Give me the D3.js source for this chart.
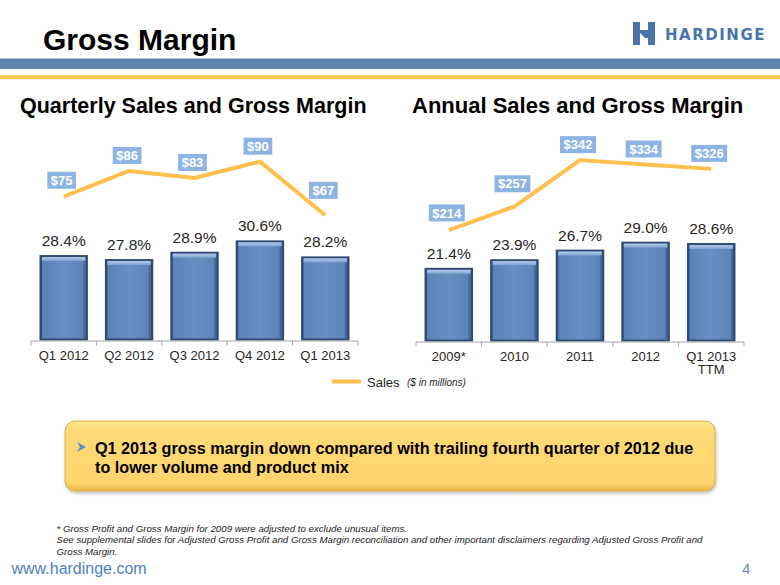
<!DOCTYPE html>
<html>
<head>
<meta charset="utf-8">
<script src="https://cdn.jsdelivr.net/npm/d3@7"></script>
<style>
  html, body { margin: 0; padding: 0; background: #fff; }
  svg { display: block; font-family: Arial, "Liberation Sans", sans-serif; }
</style>
</head>
<body>
<svg id="chart" width="780" height="585"></svg>
<script>
// ---------- data ----------
const quarters = ["Q1 2012", "Q2 2012", "Q3 2012", "Q4 2012", "Q1 2013"];
const quarterlyMargin = [28.4, 27.8, 28.9, 30.6, 28.2];
const quarterlySales = [75, 86, 83, 90, 67];

const years = ["2009*", "2010", "2011", "2012", "Q1 2013\nTTM"];
const annualMargin = [21.4, 23.9, 26.7, 29.0, 28.6];
const annualSales = [214, 257, 342, 334, 326];

const titleText = "Gross Margin";
const leftTitle = "Quarterly Sales and Gross Margin";
const rightTitle = "Annual Sales and Gross Margin";
const legendLabel = "Sales";
const legendNote = "($ in millions)";
const calloutLines = [
  "Q1 2013 gross margin down compared with trailing fourth quarter of 2012 due",
  "to lower volume and product mix"
];
const footnotes = [
  "* Gross Profit and Gross Margin for 2009 were adjusted to exclude unusual items.",
  "See supplemental slides for Adjusted Gross Profit and Gross Margin reconciliation and other important disclaimers regarding Adjusted Gross Profit and",
  "Gross Margin."
];

// ---------- setup ----------
const svg = d3.select("#chart");
const defs = svg.append("defs");

const barGrad = defs.append("linearGradient").attr("id", "barFace").attr("x1", 0).attr("x2", 1).attr("y1", 0).attr("y2", 0);
barGrad.append("stop").attr("offset", "0%").attr("stop-color", "#5b82b6");
barGrad.append("stop").attr("offset", "50%").attr("stop-color", "#6a90c2");
barGrad.append("stop").attr("offset", "100%").attr("stop-color", "#5b82b6");

const topGrad = defs.append("linearGradient").attr("id", "barTop").attr("x1", 0).attr("x2", 0).attr("y1", 0).attr("y2", 1);
topGrad.append("stop").attr("offset", "0%").attr("stop-color", "#b3cbea");
topGrad.append("stop").attr("offset", "100%").attr("stop-color", "#7fa2d0");

const callGrad = defs.append("linearGradient").attr("id", "callFill").attr("x1", 0).attr("x2", 0).attr("y1", 0).attr("y2", 1);
callGrad.append("stop").attr("offset", "0%").attr("stop-color", "#ffe58f");
callGrad.append("stop").attr("offset", "12%").attr("stop-color", "#ffda77");
callGrad.append("stop").attr("offset", "88%").attr("stop-color", "#ffd56c");
callGrad.append("stop").attr("offset", "100%").attr("stop-color", "#e9b64e");

const shadow = defs.append("filter").attr("id", "shadow").attr("x", "-5%").attr("y", "-10%").attr("width", "110%").attr("height", "130%");
shadow.append("feDropShadow").attr("dx", 1).attr("dy", 2).attr("stdDeviation", 1.5).attr("flood-color", "#000").attr("flood-opacity", 0.25);

// ---------- header ----------
svg.append("text").attr("x", 43).attr("y", 49.5)
  .attr("font-size", 30).attr("font-weight", "bold").attr("fill", "#000")
  .text(titleText);

svg.append("rect").attr("x", 0).attr("y", 58.5).attr("width", 780).attr("height", 10.5).attr("fill", "#6084b0");
svg.append("rect").attr("x", 0).attr("y", 75).attr("width", 780).attr("height", 4.3).attr("fill", "#ffc95c");

// logo
const logo = svg.append("g").attr("fill", "#4a74ac");
logo.append("rect").attr("x", 633).attr("y", 22).attr("width", 7).attr("height", 23);
logo.append("rect").attr("x", 648).attr("y", 22).attr("width", 7).attr("height", 23);
logo.append("path").attr("d", "M640,30 L648,30 L648,38 L645,38 L640,33 Z");
svg.append("text").attr("x", 665).attr("y", 39.5)
  .attr("font-size", 15.5).attr("font-weight", "bold").attr("letter-spacing", 1.6)
  .attr("fill", "#4a74ac").attr("font-family", "'DejaVu Sans', Verdana, sans-serif")
  .attr("textLength", 101).attr("lengthAdjust", "spacingAndGlyphs")
  .text("HARDINGE");

// section titles
svg.append("text").attr("x", 20).attr("y", 113).attr("font-size", 21.5).attr("font-weight", "bold").attr("fill", "#000").text(leftTitle);
svg.append("text").attr("x", 412).attr("y", 113).attr("font-size", 22).attr("font-weight", "bold").attr("fill", "#000").text(rightTitle);

// ---------- chart builder ----------
function drawPanel(cfg) {
  const g = svg.append("g");
  const x = d3.scaleBand().domain(cfg.cats).range([cfg.x0, cfg.x1]).paddingInner(0.26).paddingOuter(0.13);
  const y = d3.scaleLinear().domain(cfg.marginDomain).range([cfg.base, cfg.marginTop]);
  const ys = d3.scaleLinear().domain(cfg.salesDomain).range(cfg.salesRange);
  const rows = cfg.cats.map((c, i) => ({ c, m: cfg.margin[i], s: cfg.sales[i] }));
  const cx = d => x(d.c) + x.bandwidth() / 2;

  // bars
  const bars = g.selectAll(".bar").data(rows).enter().append("g");
  bars.append("rect")
    .attr("x", d => x(d.c)).attr("y", d => y(d.m))
    .attr("width", x.bandwidth()).attr("height", d => cfg.base - y(d.m))
    .attr("fill", "#2f4b74");
  bars.append("rect")
    .attr("x", d => x(d.c) + 2.5).attr("y", d => y(d.m) + 2)
    .attr("width", x.bandwidth() - 5).attr("height", d => cfg.base - y(d.m) - 4)
    .attr("fill", "url(#barFace)");
  bars.append("rect")
    .attr("x", d => x(d.c) + 2.5).attr("y", d => y(d.m) + 2)
    .attr("width", x.bandwidth() - 5).attr("height", 4)
    .attr("fill", "url(#barTop)");
  bars.append("rect")
    .attr("x", d => x(d.c) + x.bandwidth() - 4.5).attr("y", d => y(d.m) + 6)
    .attr("width", 2).attr("height", d => cfg.base - y(d.m) - 8)
    .attr("fill", "#46679a");

  // percent labels
  g.selectAll(".pct").data(rows).enter().append("text")
    .attr("x", cx).attr("y", d => y(d.m) - 9)
    .attr("text-anchor", "middle").attr("font-size", 15.5).attr("fill", "#262626")
    .text(d => d3.format(".1f")(d.m) + "%");

  // axis line and boundary ticks
  g.append("line").attr("x1", cfg.x0).attr("x2", cfg.x1).attr("y1", cfg.base + 0.5).attr("y2", cfg.base + 0.5)
    .attr("stroke", "#a6a6a6").attr("stroke-width", 1);
  const bounds = d3.range(cfg.cats.length + 1).map(i => cfg.x0 + i * x.step());
  g.selectAll(".tk").data(bounds).enter().append("line")
    .attr("x1", d => d).attr("x2", d => d).attr("y1", cfg.base + 0.5).attr("y2", cfg.base + 5)
    .attr("stroke", "#a6a6a6");

  // category labels via axis
  const ax = g.append("g").attr("transform", `translate(0,${cfg.base})`)
    .call(d3.axisBottom(x).tickSize(0).tickPadding(10));
  ax.select(".domain").remove();
  ax.selectAll("text").attr("font-size", 13).attr("fill", "#262626").attr("font-family", "Arial, 'Liberation Sans', sans-serif")
    .each(function(d) {
      const parts = d.split("\n");
      const t = d3.select(this).text(null);
      parts.forEach((p, i) => t.append("tspan").attr("x", 0).attr("dy", i === 0 ? "0.71em" : "1.05em").text(p));
    });

  // sales line
  const line = d3.line().x(cx).y(d => ys(d.s));
  g.append("path").datum(rows).attr("d", line)
    .attr("fill", "none").attr("stroke", "#ffc04f").attr("stroke-width", 4).attr("stroke-linejoin", "round");

  // line y at any x (for label placement)
  const pts = rows.map(d => [cx(d), ys(d.s)]);
  function lineYAt(px) {
    for (let i = 0; i < pts.length - 1; i++) {
      const [xa, ya] = pts[i], [xb, yb] = pts[i + 1];
      if (px >= xa && px <= xb) return ya + (yb - ya) * (px - xa) / (xb - xa);
    }
    return Infinity;
  }

  // sales labels, placed above the line
  const lab = g.selectAll(".sl").data(rows).enter().append("g");
  lab.each(function(d) {
    const s = d3.select(this);
    const t = s.append("text").attr("text-anchor", "middle").attr("dy", "0.36em")
      .attr("font-size", 13).attr("font-weight", "bold").attr("fill", "#fff")
      .text("$" + d.s);
    const w = t.node().getComputedTextLength() + 7;
    s.insert("rect", "text").attr("x", -w / 2).attr("y", -8.5).attr("width", w).attr("height", 17)
      .attr("fill", "#8db4e2");
    const px = cx(d) - 2;
    const clear = Math.min(lineYAt(px - w / 2), lineYAt(px + w / 2)) - 3;
    const bottom = Math.min(ys(d.s) - 7, clear);
    s.attr("transform", `translate(${px},${bottom - 8.5})`);
  });
}

drawPanel({
  cats: quarters, margin: quarterlyMargin, sales: quarterlySales,
  x0: 31, x1: 358, base: 340.5,
  marginDomain: [15.6, 35], marginTop: 211,
  salesDomain: [15, 95], salesRange: [336.5, 150]
});

drawPanel({
  cats: years, margin: annualMargin, sales: annualSales,
  x0: 416, x1: 744, base: 341.5,
  marginDomain: [0, 35], marginTop: 221,
  salesDomain: [10, 400], salesRange: [341.7, 128.4]
});

// legend
svg.append("line").attr("x1", 332).attr("x2", 361).attr("y1", 381.5).attr("y2", 381.5)
  .attr("stroke", "#ffc04f").attr("stroke-width", 4);
svg.append("text").attr("x", 367).attr("y", 386.5).attr("font-size", 13).attr("fill", "#262626").text(legendLabel);
svg.append("text").attr("x", 407).attr("y", 386).attr("font-size", 10).attr("font-style", "italic").attr("fill", "#262626").text(legendNote);

// callout
svg.append("rect").attr("x", 65).attr("y", 421).attr("width", 650).attr("height", 70).attr("rx", 10)
  .attr("fill", "url(#callFill)").attr("stroke", "#dcae4c").attr("stroke-width", 1).attr("filter", "url(#shadow)");
svg.append("path").attr("d", "M77,442 L86,447 L77,452 L80,447 Z").attr("fill", "#5d8ed0");
calloutLines.forEach((l, i) => {
  svg.append("text").attr("x", 95).attr("y", 453.5 + i * 19.5)
    .attr("font-size", 16.2).attr("font-weight", "bold").attr("fill", "#000").text(l);
});

// footnotes
footnotes.forEach((l, i) => {
  svg.append("text").attr("x", 56.5).attr("y", 531.5 + i * 11.7)
    .attr("font-size", 9.7).attr("font-style", "italic").attr("fill", "#222").text(l);
});
svg.append("text").attr("x", 11.5).attr("y", 573.5).attr("font-size", 16).attr("fill", "#4f7fbf").text("www.hardinge.com");
svg.append("text").attr("x", 742).attr("y", 573.5).attr("font-size", 15).attr("fill", "#6e8fbf").text("4");
</script>
</body>
</html>
